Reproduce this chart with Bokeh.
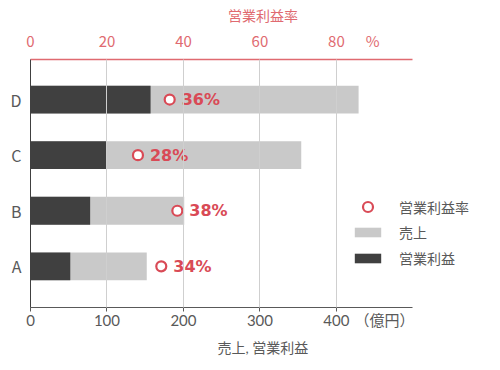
from bokeh.plotting import figure
from bokeh.models import Range1d, LinearAxis, FixedTicker, ColumnDataSource, Legend, LegendItem
from bokeh.core.properties import value
from bokeh.embed import file_html
from bokeh.resources import INLINE

categories = ["A", "B", "C", "D"]
sales = [152, 201, 354, 429]
profit = [52, 78, 99, 157]
margin = [34.2, 38.4, 28.1, 36.4]
x_ticks = [0, 100, 200, 300, 400]
pct_ticks = [0, 20, 40, 60, 80]
x_unit = "（億円）"
pct_unit = "%"

FONT = "Noto Sans CJK JP"
FONT_B = "Lato, Noto Sans CJK JP"
RED = "#d94a56"
RED_AX = "#e06a70"
GRAY_TXT = "#595959"

ypos = list(range(len(categories)))
src = ColumnDataSource(dict(y=ypos, sales=sales, profit=profit, margin=margin,
                            lab=[f"{round(m)}%" for m in margin]))

X_END = 608  # frame extends past the axis end so the legend fits inside
p = figure(width=500, height=370, output_backend="svg", toolbar_location=None,
           x_range=Range1d(0, X_END), y_range=Range1d(-0.74, 3.72),
           min_border_left=30, min_border_right=5, min_border_top=59, min_border_bottom=63)
p.outline_line_color = None
p.background_fill_color = "white"
p.extra_x_ranges = {"pct": Range1d(0, X_END / 5)}

r_sales = p.hbar(y="y", right="sales", height=0.5, source=src, fill_color="#c9c9c9", line_color=None)
r_profit = p.hbar(y="y", right="profit", height=0.5, source=src, fill_color="#404040", line_color=None)
r_m = p.scatter(x="margin", y="y", x_range_name="pct", source=src, size=10, marker="circle",
                fill_color="white", line_color=RED, line_width=2.2)
p.text(x="margin", y="y", text="lab", x_range_name="pct", source=src, x_offset=12,
       text_baseline="middle", text_align="left", text_color=RED,
       text_font=value("DejaVu Sans"), text_font_size="16px", text_font_style="bold")

# bottom axis
xa = p.xaxis[0]
xa.bounds = (0, 500)
xa.ticker = FixedTicker(ticks=x_ticks + [463], minor_ticks=x_ticks)
xa.major_label_overrides = {463: x_unit}
xa.axis_label = "売上, 営業利益"
xa.axis_line_color = "#595959"
xa.major_tick_line_color = None
xa.minor_tick_line_color = "#595959"
xa.minor_tick_out = 4
xa.minor_tick_in = 0
xa.major_tick_out = 4
xa.major_tick_in = 0
xa.major_label_text_font = FONT_B
xa.major_label_text_font_size = "15px"
xa.major_label_text_color = GRAY_TXT
xa.major_label_standoff = -1
xa.axis_label_text_font = FONT_B
xa.axis_label_text_font_size = "14px"
xa.axis_label_text_font_style = "normal"
xa.axis_label_text_color = GRAY_TXT
xa.axis_label_standoff = 7

# left axis
ya = p.yaxis[0]
ya.ticker = FixedTicker(ticks=ypos)
ya.major_label_overrides = {i: c for i, c in zip(ypos, categories)}
ya.axis_line_color = "#404040"
ya.major_tick_line_color = None
ya.minor_tick_line_color = None
ya.major_label_text_font = FONT
ya.major_label_text_font_size = "16px"
ya.major_label_text_color = GRAY_TXT
ya.major_label_standoff = 3

# top axis
ta = LinearAxis(x_range_name="pct", ticker=FixedTicker(ticks=pct_ticks + [89.5]))
ta.bounds = (0, 100)
ta.major_label_overrides = {89.5: pct_unit}
ta.axis_label = "営業利益率"
ta.axis_line_color = RED_AX
ta.axis_line_width = 1.3
ta.major_tick_line_color = None
ta.minor_tick_line_color = None
ta.major_label_text_font = FONT
ta.major_label_text_font_size = "15px"
ta.major_label_text_color = RED_AX
ta.major_label_standoff = 3
ta.axis_label_text_font = FONT
ta.axis_label_text_font_size = "14px"
ta.axis_label_text_font_style = "normal"
ta.axis_label_text_color = RED_AX
ta.axis_label_standoff = 2
p.add_layout(ta, "above")

p.ygrid.grid_line_color = None
p.xgrid.ticker = FixedTicker(ticks=x_ticks[1:])
p.xgrid.grid_line_color = "#cfcfcf"
p.xgrid.level = "guide"

def style_legend(lg, gh):
    lg.background_fill_alpha = 0
    lg.border_line_color = None
    lg.padding = 0
    lg.margin = 0
    lg.spacing = 6
    lg.glyph_width = 33
    lg.glyph_height = gh
    lg.label_height = 20
    lg.label_standoff = 15
    lg.label_text_font = FONT
    lg.label_text_font_size = "14px"
    lg.label_text_color = GRAY_TXT

lg1 = Legend(items=[LegendItem(label="営業利益率", renderers=[r_m])], location=(321, 88))
style_legend(lg1, 25)
lg2 = Legend(items=[LegendItem(label="売上", renderers=[r_sales]),
                    LegendItem(label="営業利益", renderers=[r_profit])], location=(321, 39))
style_legend(lg2, 12)
p.add_layout(lg1, "center")
p.add_layout(lg2, "center")

open("out.html", "w").write(file_html(p, INLINE))
